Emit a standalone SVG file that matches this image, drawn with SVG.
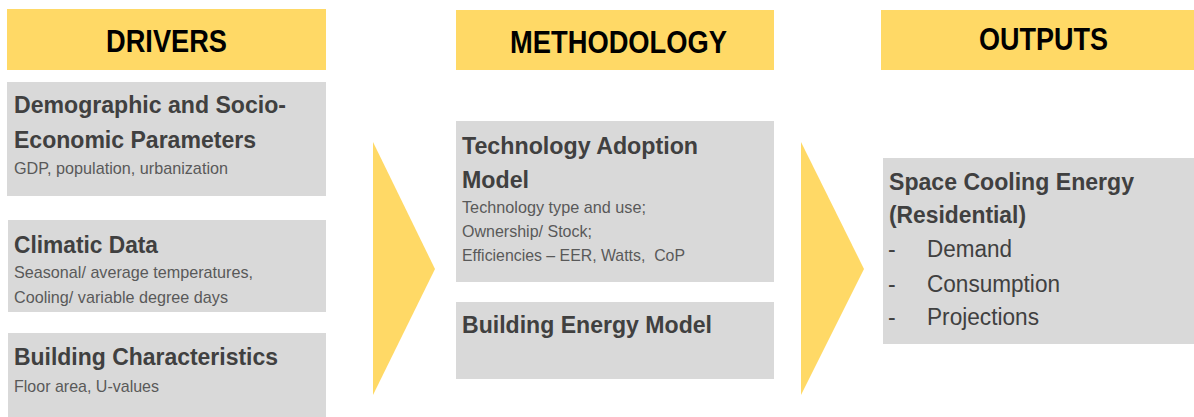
<svg xmlns="http://www.w3.org/2000/svg" width="1194" height="417" viewBox="0 0 1194 417">
  <style>
    .hdr { fill: #FFD966; }
    .box { fill: #D9D9D9; }
    .flow { fill: #FFD966; }
    .htxt { font-family: "Liberation Sans", Arial, sans-serif; font-weight: bold; font-size: 32px; fill: #000000; }
    .ttl { font-family: "Liberation Sans", Arial, sans-serif; font-weight: bold; font-size: 23px; fill: #404040; }
    .sub { font-family: "Liberation Sans", Arial, sans-serif; font-size: 17px; fill: #595959; }
    .item { font-family: "Liberation Sans", Arial, sans-serif; font-size: 23px; fill: #404040; }
  </style>
  <rect width="1194" height="417" fill="#FFFFFF"/>

  <!-- column headers -->
  <g id="hdr-drivers">
    <rect class="hdr" x="7" y="9" width="319" height="61"/>
    <text class="htxt" x="106" y="52" textLength="121" lengthAdjust="spacingAndGlyphs">DRIVERS</text>
  </g>
  <g id="hdr-methodology">
    <rect class="hdr" x="456" y="10" width="318" height="60"/>
    <text class="htxt" x="510" y="53" textLength="217" lengthAdjust="spacingAndGlyphs">METHODOLOGY</text>
  </g>
  <g id="hdr-outputs">
    <rect class="hdr" x="881" y="10" width="313" height="60"/>
    <text class="htxt" x="979" y="50" textLength="129" lengthAdjust="spacingAndGlyphs">OUTPUTS</text>
  </g>

  <!-- drivers -->
  <g id="demographic">
    <rect class="box" x="7" y="82" width="319" height="114"/>
    <text class="ttl" x="14" y="113" textLength="272" lengthAdjust="spacingAndGlyphs">Demographic and Socio-</text>
    <text class="ttl" x="14" y="148" textLength="242" lengthAdjust="spacingAndGlyphs">Economic Parameters</text>
    <text class="sub" x="14" y="174" textLength="214" lengthAdjust="spacingAndGlyphs">GDP, population, urbanization</text>
  </g>
  <g id="climatic">
    <rect class="box" x="8" y="220" width="318" height="92"/>
    <text class="ttl" x="14" y="253" textLength="144" lengthAdjust="spacingAndGlyphs">Climatic Data</text>
    <text class="sub" x="14" y="278" textLength="239" lengthAdjust="spacingAndGlyphs">Seasonal/ average temperatures,</text>
    <text class="sub" x="14" y="303" textLength="214" lengthAdjust="spacingAndGlyphs">Cooling/ variable degree days</text>
  </g>
  <g id="building-char">
    <rect class="box" x="8" y="333" width="318" height="84"/>
    <text class="ttl" x="14" y="365" textLength="264" lengthAdjust="spacingAndGlyphs">Building Characteristics</text>
    <text class="sub" x="14" y="392" textLength="145" lengthAdjust="spacingAndGlyphs">Floor area, U-values</text>
  </g>

  <!-- methodology -->
  <g id="tech-adoption">
    <rect class="box" x="456" y="121" width="318" height="161"/>
    <text class="ttl" x="462" y="154" textLength="236" lengthAdjust="spacingAndGlyphs">Technology Adoption</text>
    <text class="ttl" x="462" y="188" textLength="67" lengthAdjust="spacingAndGlyphs">Model</text>
    <text class="sub" x="462" y="213" textLength="184" lengthAdjust="spacingAndGlyphs">Technology type  and use;</text>
    <text class="sub" x="462" y="237" textLength="130" lengthAdjust="spacingAndGlyphs">Ownership/ Stock;</text>
    <text class="sub" x="462" y="261" textLength="223" lengthAdjust="spacingAndGlyphs" xml:space="preserve">Efficiencies – EER, Watts,  CoP</text>
  </g>
  <g id="building-energy">
    <rect class="box" x="456" y="302" width="318" height="77"/>
    <text class="ttl" x="462" y="333" textLength="250" lengthAdjust="spacingAndGlyphs">Building Energy Model</text>
  </g>

  <!-- outputs -->
  <g id="space-cooling">
    <rect class="box" x="883" y="158" width="311" height="186"/>
    <text class="ttl" x="889" y="190" textLength="245" lengthAdjust="spacingAndGlyphs">Space Cooling Energy</text>
    <text class="ttl" x="889" y="223" textLength="137" lengthAdjust="spacingAndGlyphs">(Residential)</text>
    <text class="item" x="888" y="257">-</text>
    <text class="item" x="927" y="257" textLength="85" lengthAdjust="spacingAndGlyphs">Demand</text>
    <text class="item" x="888" y="292">-</text>
    <text class="item" x="927" y="292" textLength="133" lengthAdjust="spacingAndGlyphs">Consumption</text>
    <text class="item" x="888" y="325">-</text>
    <text class="item" x="927" y="325" textLength="112" lengthAdjust="spacingAndGlyphs">Projections</text>
  </g>

  <!-- flow chevrons between columns -->
  <g id="connectors">
    <polygon class="flow" points="373,142 435,269 373,395"/>
    <polygon class="flow" points="801,142 864,269 801,395"/>
  </g>
</svg>
